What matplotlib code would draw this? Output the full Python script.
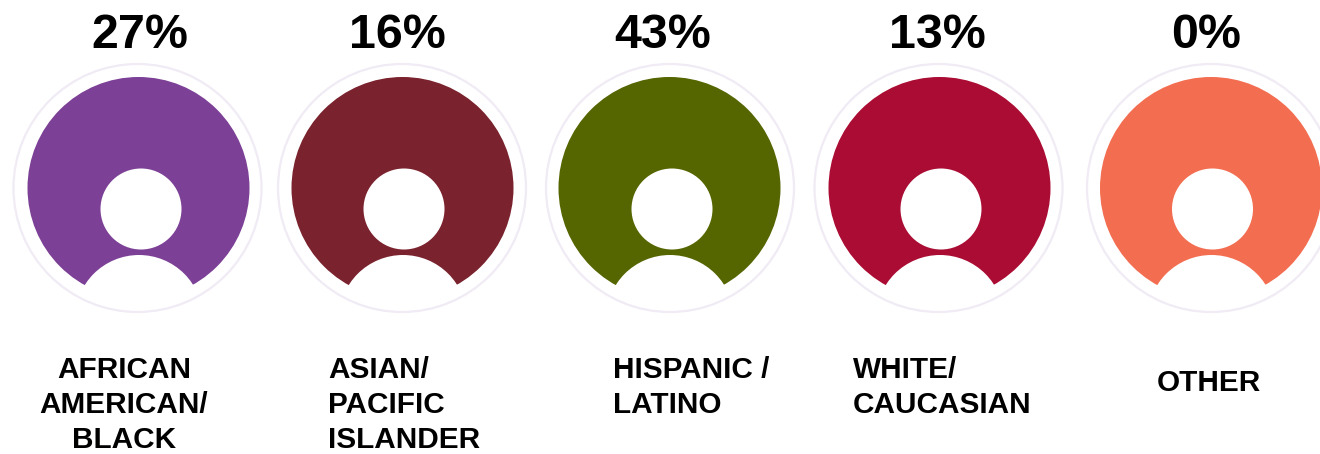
import matplotlib
matplotlib.use('Agg')
import matplotlib.pyplot as plt
from matplotlib.patches import Circle

plt.rcParams['font.family'] = ['Liberation Sans', 'DejaVu Sans']

# Share of each group
groups = ['AFRICAN\nAMERICAN/\nBLACK', 'ASIAN/\nPACIFIC\nISLANDER', 'HISPANIC /\nLATINO',
          'WHITE/\nCAUCASIAN', 'OTHER']
shares = [27, 16, 43, 13, 0]
colors = ['#7c4096', '#7a222e', '#556500', '#aa0c33', '#f36d50']

# Icon parts and label placement, in pixels
disc_x = [138.5, 402.5, 669.5, 939.5, 1211]
ring_x = [137.5, 402, 670, 938.5, 1211]
head_x = [141, 404, 672, 941, 1212.5]
icon_y = 188
share_x = [139.5, 397, 662.5, 937, 1206]
label_x = [124, 328, 613, 853, 1209]
label_ha = ['center', 'left', 'left', 'left', 'center']
label_top = [370, 370, 370, 370, 383]
line_gap = 35

fig = plt.figure(figsize=(13.2, 4.54), dpi=100)
ax = fig.add_axes([0, 0, 1, 1])
ax.set_xlim(0, 1320)
ax.set_ylim(454, 0)
ax.axis('off')

for i, share in enumerate(shares):
    # person silhouette cut out of a coloured disc
    ax.add_patch(Circle((disc_x[i], icon_y), 111, fc=colors[i], ec='none', zorder=1))
    ax.add_patch(Circle((head_x[i], 209), 40.5, fc='white', ec='none', zorder=2))
    ax.add_patch(Circle((disc_x[i] + 0.5, 319), 64, fc='white', ec='none', zorder=2))

    # pale outer ring
    ax.add_patch(Circle((ring_x[i], icon_y), 124, fc='none', ec='#f0ebf4', lw=1.6, zorder=3))

    ax.text(share_x[i], 35, f'{share}%', fontsize=34.8, fontweight='bold',
            ha='center', va='center', color='black', zorder=4)

    for j, line in enumerate(groups[i].split('\n')):
        ax.text(label_x[i], label_top[i] + j * line_gap, line, fontsize=21.4,
                fontweight='bold', ha=label_ha[i], va='center', color='black', zorder=4)

fig.savefig('out.png', dpi=100, facecolor='white')
